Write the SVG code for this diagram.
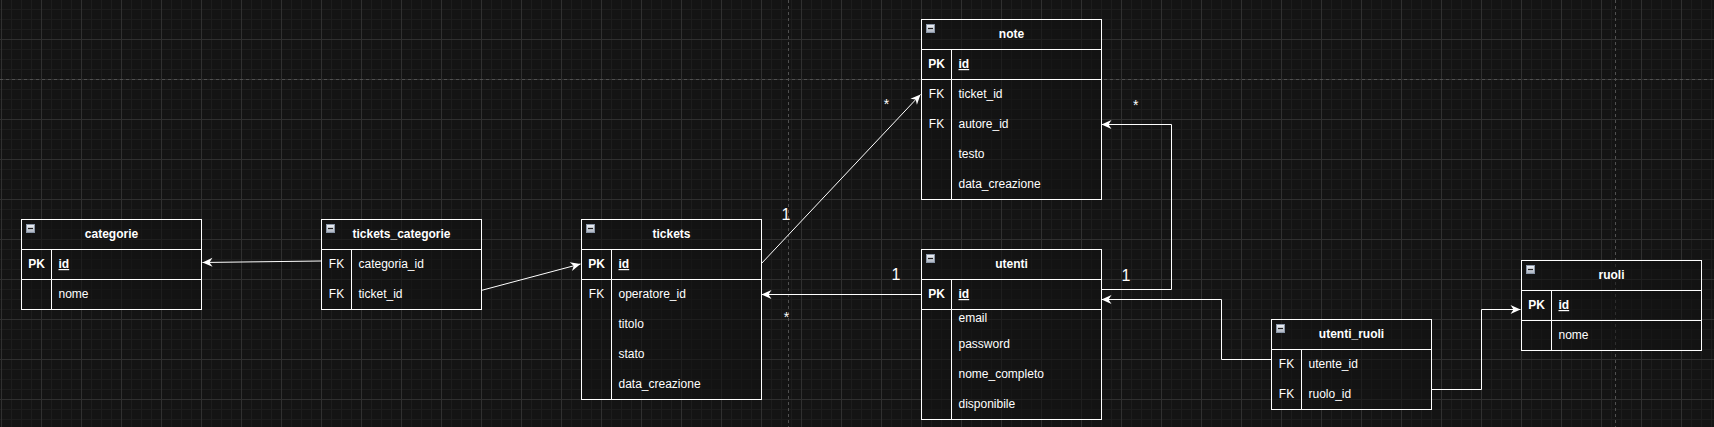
<svg xmlns="http://www.w3.org/2000/svg" xmlns:xlink="http://www.w3.org/1999/xlink" width="1714" height="427" viewBox="0 0 1714 427">
<style>
.box{fill:#121212;fill-opacity:0.55;stroke:#ffffff;stroke-width:1}
.ln{stroke:#ffffff;stroke-width:1;fill:none}
.t{font-family:"Liberation Sans",Arial,sans-serif;font-size:12px;fill:#ffffff}
.h{font-weight:bold;text-anchor:middle}
.k{text-anchor:middle}
.pk{font-weight:bold;text-anchor:middle}
.u{font-weight:bold;text-decoration:underline}
.c{stroke:#ffffff;stroke-width:1;fill:none}
.lbl{font-family:"Liberation Sans",Arial,sans-serif;fill:#ffffff;text-anchor:middle}
</style>
<defs>
<pattern id="minor" patternUnits="userSpaceOnUse" x="1" y="9" width="10" height="10">
<path d="M0.5 0V10M0 0.5H10" stroke="#1d1d1d" stroke-width="1" fill="none"/>
</pattern>
<pattern id="major" patternUnits="userSpaceOnUse" x="1" y="-1" width="40" height="40">
<path d="M0.5 0V40M0 0.5H40" stroke="#303030" stroke-width="1" fill="none"/>
</pattern>
<linearGradient id="ig" x1="0" y1="0" x2="0" y2="1">
<stop offset="0" stop-color="#f2f4f8"/>
<stop offset="1" stop-color="#aab2c0"/>
</linearGradient>
<g id="minus">
<rect x="0.5" y="0.5" width="8" height="8" fill="url(#ig)" stroke="#8a96a8" stroke-width="1"/>
<path d="M2 4.5H7" stroke="#222222" stroke-width="1.2"/>
</g>
<marker id="arr" markerUnits="userSpaceOnUse" markerWidth="12" markerHeight="12" viewBox="-11 -6 12 12" refX="0" refY="0" orient="auto">
<path d="M0 0L-10 -4.5L-7 0L-10 4.5Z" fill="#ffffff"/>
</marker>
</defs>
<rect width="1714" height="427" fill="#141414"/>
<rect width="1714" height="427" fill="url(#minor)"/>
<rect width="1714" height="427" fill="url(#major)"/>
<g stroke="#505050" stroke-width="1" stroke-dasharray="3 3" fill="none">
<path d="M0 79.5H1714"/>
<path d="M788.5 0V427"/>
<path d="M1615.5 0V427"/>
</g>

<g id="connectors">
<path class="c" d="M321 261L202.5 262.5" marker-end="url(#arr)"/>
<path class="c" d="M481 290.5L580.5 264" marker-end="url(#arr)"/>
<path class="c" d="M761 264L920.5 94.5" marker-end="url(#arr)"/>
<path class="c" d="M921 294.5H761.5" marker-end="url(#arr)"/>
<path class="c" d="M1101 289.5H1171.5V124.5H1101.5" marker-end="url(#arr)"/>
<path class="c" d="M1271 359.5H1221.5V299.5H1101.5" marker-end="url(#arr)"/>
<path class="c" d="M1431 389.5H1481.5V309.5H1520.5" marker-end="url(#arr)"/>
<text class="lbl" x="786" y="220" font-size="16">1</text>
<text class="lbl" x="886.5" y="109" font-size="14">*</text>
<text class="lbl" x="896" y="280" font-size="16">1</text>
<text class="lbl" x="786.5" y="321.5" font-size="14">*</text>
<text class="lbl" x="1126" y="280.5" font-size="16">1</text>
<text class="lbl" x="1135.7" y="109.5" font-size="14">*</text>
</g>

<g id="categorie">
<rect class="box" x="21.5" y="219.5" width="180" height="90"/>
<path class="ln" d="M21.5 249.5H201.5M21.5 279.5H201.5M51.5 249.5V309.5"/>
<use xlink:href="#minus" x="26" y="224"/>
<text class="t h" x="111.5" y="238">categorie</text>
<text class="t pk" x="36.5" y="268">PK</text>
<text class="t u" x="58.5" y="268">id</text>
<text class="t" x="58.5" y="298">nome</text>
</g>

<g id="tickets_categorie">
<rect class="box" x="321.5" y="219.5" width="160" height="90"/>
<path class="ln" d="M321.5 249.5H481.5M351.5 249.5V309.5"/>
<use xlink:href="#minus" x="326" y="224"/>
<text class="t h" x="401.5" y="238">tickets_categorie</text>
<text class="t k" x="336.5" y="268">FK</text>
<text class="t" x="358.5" y="268">categoria_id</text>
<text class="t k" x="336.5" y="298">FK</text>
<text class="t" x="358.5" y="298">ticket_id</text>
</g>

<g id="tickets">
<rect class="box" x="581.5" y="219.5" width="180" height="180"/>
<path class="ln" d="M581.5 249.5H761.5M581.5 279.5H761.5M611.5 249.5V399.5"/>
<use xlink:href="#minus" x="586" y="224"/>
<text class="t h" x="671.5" y="238">tickets</text>
<text class="t pk" x="596.5" y="268">PK</text>
<text class="t u" x="618.5" y="268">id</text>
<text class="t k" x="596.5" y="298">FK</text>
<text class="t" x="618.5" y="298">operatore_id</text>
<text class="t" x="618.5" y="328">titolo</text>
<text class="t" x="618.5" y="358">stato</text>
<text class="t" x="618.5" y="388">data_creazione</text>
</g>

<g id="note">
<rect class="box" x="921.5" y="19.5" width="180" height="180"/>
<path class="ln" d="M921.5 49.5H1101.5M921.5 79.5H1101.5M951.5 49.5V199.5"/>
<use xlink:href="#minus" x="926" y="24"/>
<text class="t h" x="1011.5" y="38">note</text>
<text class="t pk" x="936.5" y="68">PK</text>
<text class="t u" x="958.5" y="68">id</text>
<text class="t k" x="936.5" y="98">FK</text>
<text class="t" x="958.5" y="98">ticket_id</text>
<text class="t k" x="936.5" y="128">FK</text>
<text class="t" x="958.5" y="128">autore_id</text>
<text class="t" x="958.5" y="158">testo</text>
<text class="t" x="958.5" y="188">data_creazione</text>
</g>

<g id="utenti">
<rect class="box" x="921.5" y="249.5" width="180" height="170"/>
<path class="ln" d="M921.5 279.5H1101.5M921.5 309.5H1101.5M951.5 279.5V419.5"/>
<use xlink:href="#minus" x="926" y="254"/>
<text class="t h" x="1011.5" y="268">utenti</text>
<text class="t pk" x="936.5" y="298">PK</text>
<text class="t u" x="958.5" y="298">id</text>
<text class="t" x="958.5" y="322">email</text>
<text class="t" x="958.5" y="348">password</text>
<text class="t" x="958.5" y="378">nome_completo</text>
<text class="t" x="958.5" y="408">disponibile</text>
</g>

<g id="utenti_ruoli">
<rect class="box" x="1271.5" y="319.5" width="160" height="90"/>
<path class="ln" d="M1271.5 349.5H1431.5M1301.5 349.5V409.5"/>
<use xlink:href="#minus" x="1276" y="324"/>
<text class="t h" x="1351.5" y="338">utenti_ruoli</text>
<text class="t k" x="1286.5" y="368">FK</text>
<text class="t" x="1308.5" y="368">utente_id</text>
<text class="t k" x="1286.5" y="398">FK</text>
<text class="t" x="1308.5" y="398">ruolo_id</text>
</g>

<g id="ruoli">
<rect class="box" x="1521.5" y="260.5" width="180" height="90"/>
<path class="ln" d="M1521.5 290.5H1701.5M1521.5 320.5H1701.5M1551.5 290.5V350.5"/>
<use xlink:href="#minus" x="1526" y="265"/>
<text class="t h" x="1611.5" y="279">ruoli</text>
<text class="t pk" x="1536.5" y="309">PK</text>
<text class="t u" x="1558.5" y="309">id</text>
<text class="t" x="1558.5" y="339">nome</text>
</g>
</svg>
